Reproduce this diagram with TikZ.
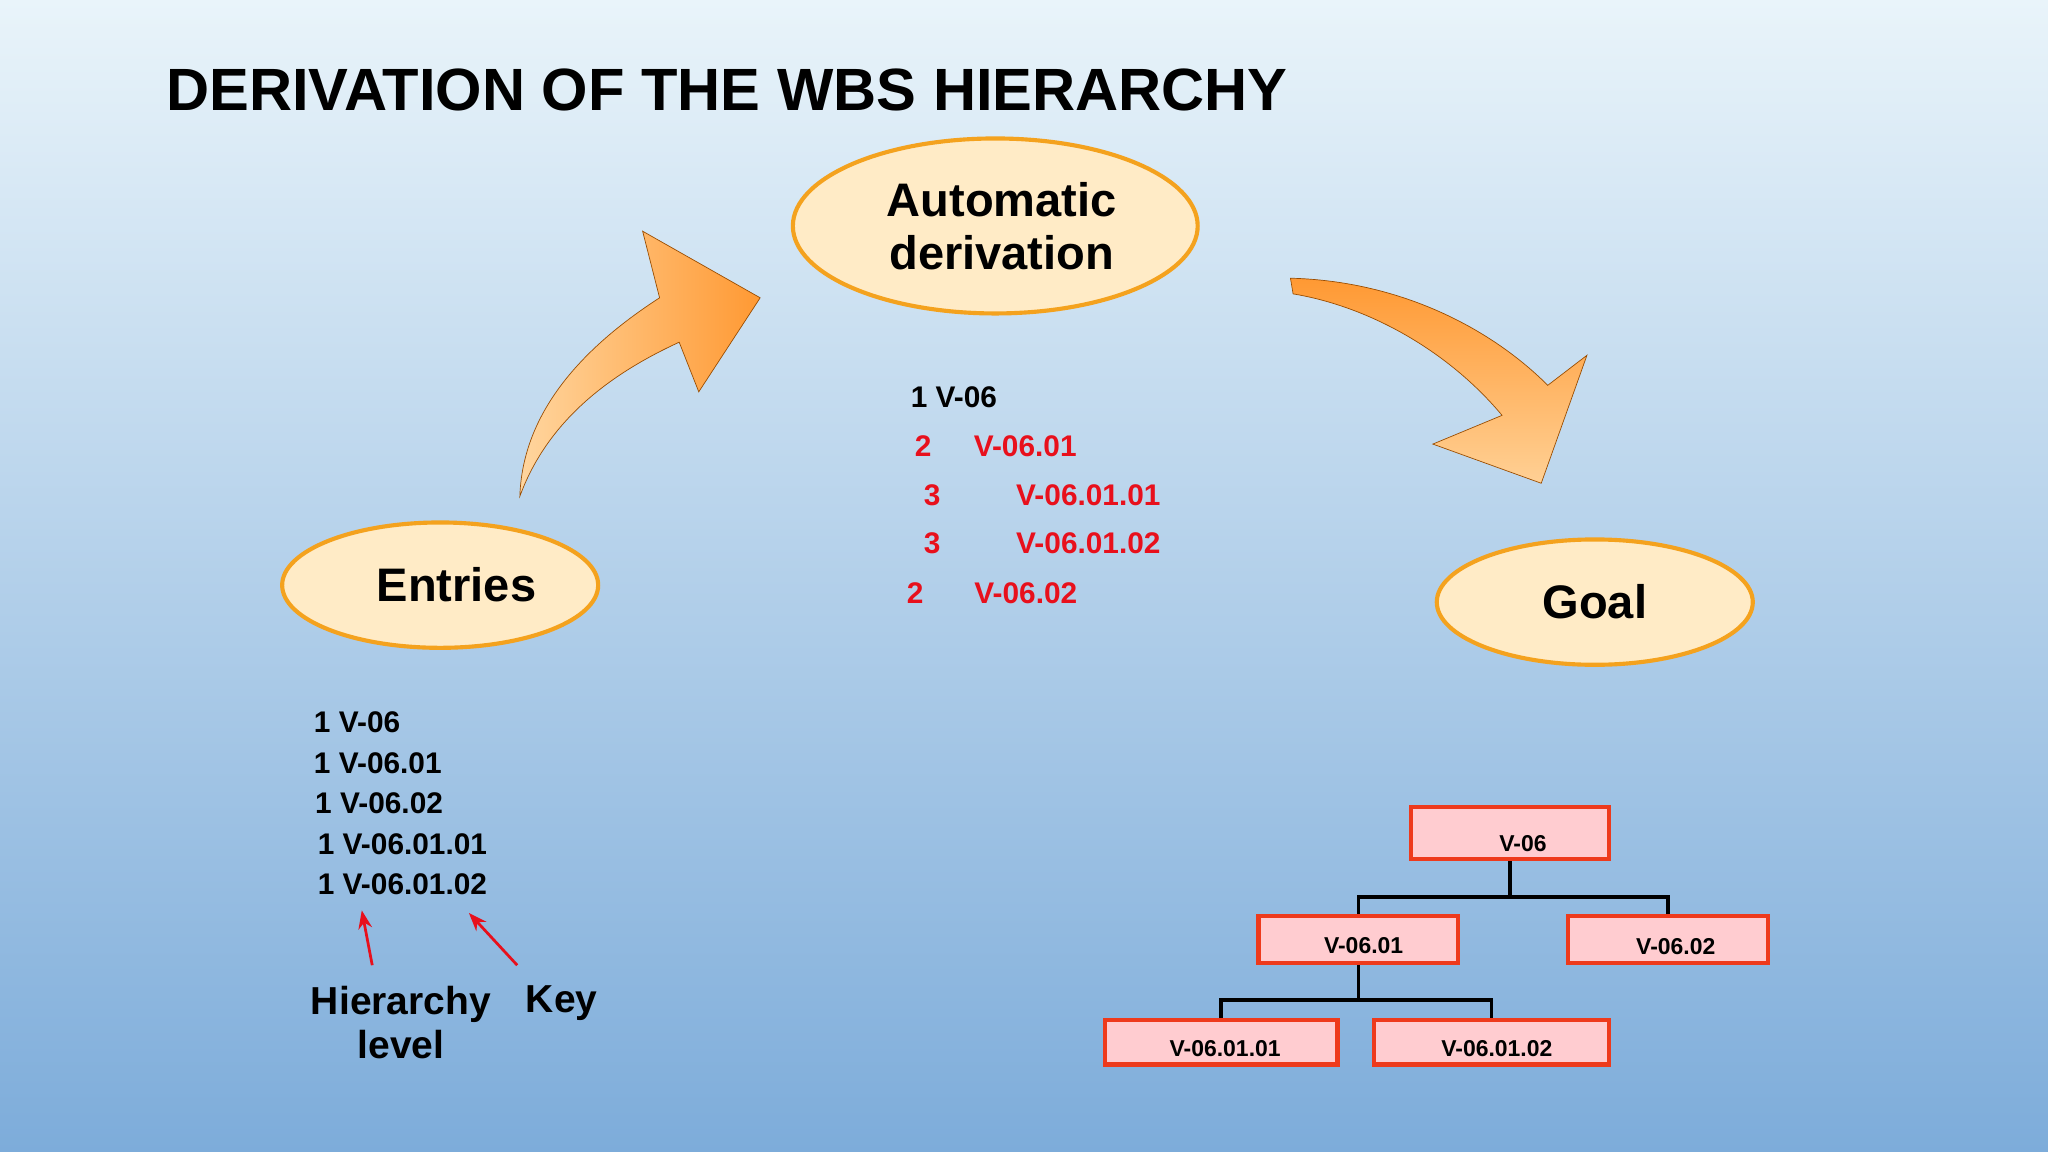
\documentclass[tikz,border=0pt]{standalone}
\usepackage{fontspec}
\setmainfont{Liberation Sans}
\usetikzlibrary{shapes.geometric,arrows.meta}
\definecolor{wbspeach}{HTML}{FFEBC6}
\definecolor{wbsorange}{HTML}{F4A21E}
\definecolor{wbspink}{HTML}{FFCCD0}
\definecolor{wbsred}{HTML}{EE3A1C}
\definecolor{wbstext}{HTML}{E8101C}
\definecolor{skytop}{HTML}{E9F4FA}
\definecolor{skybottom}{HTML}{7DACDA}
\begin{document}
\begin{tikzpicture}[x=0.02cm,y=-0.02cm,
  bubble/.style={ellipse, draw=wbsorange, line width=1.8pt, fill=wbspeach, inner sep=0pt, font=\bfseries\fontsize{20.5}{23}\selectfont, align=center},
  wbsbox/.style={draw=wbsred, line width=1.8pt, fill=wbspink, inner sep=0pt, font=\bfseries\fontsize{10}{12}\selectfont},
  item/.style={anchor=west, inner sep=0pt, font=\bfseries\fontsize{13}{15}\selectfont},
  reditem/.style={item, text=wbstext},
  link/.style={line width=1.6pt},
  pointer/.style={draw=wbstext, line width=1.2pt, -{Stealth[length=8pt,width=6pt]}}]
% background
\shade[top color=skytop, bottom color=skybottom] (0,0) rectangle (1568,882);
\useasboundingbox (0,0) rectangle (1568,882);
\node[anchor=west, inner sep=0pt, font=\bfseries\fontsize{26}{29}\selectfont] (title) at (127,69) {DERIVATION OF THE WBS HIERARCHY};
% ellipses
\node[bubble, minimum width=6.2cm, minimum height=2.68cm] (auto) at (762,173) {\hspace*{0.2cm}Automatic\\\hspace*{0.2cm}derivation};
\node[bubble, minimum width=4.84cm, minimum height=1.92cm] (entries) at (337,448) {\hspace*{0.5cm}Entries};
\node[bubble, minimum width=4.84cm, minimum height=1.92cm] (goal) at (1221,461) {Goal};
% curved arrows
\shade[left color=orange!20!wbspeach, right color=orange!80, draw=orange!60!black, line width=0.3pt]
  (398,380) .. controls (400,320) and (440,270) .. (505,228) -- (492,177) -- (582,228) -- (535,300) -- (520,262) .. controls (470,285) and (420,320) .. (398,380) -- cycle;
\shade[top color=orange!80, bottom color=orange!25!wbspeach, draw=orange!60!black, line width=0.3pt]
  (988,213) .. controls (1070,215) and (1140,250) .. (1185,295) -- (1215,272) -- (1180,370) -- (1097,340) -- (1150,318) .. controls (1110,270) and (1050,235) .. (990,225) -- cycle;
% derived list
\node[item] (d1) at (697,304) {1 V-06};
\node[reditem] (d2) at (700,342) {2\hspace{0.65cm}V-06.01};
\node[reditem] (d3) at (707,379) {3\hspace{1.16cm}V-06.01.01};
\node[reditem] (d4) at (707,416) {3\hspace{1.16cm}V-06.01.02};
\node[reditem] (d5) at (694,454) {2\hspace{0.78cm}V-06.02};
% entries list
\node[item] (e1) at (240,553) {1 V-06};
\node[item] (e2) at (240,584) {1 V-06.01};
\node[item] (e3) at (241,615) {1 V-06.02};
\node[item] (e4) at (243,646) {1 V-06.01.01};
\node[item] (e5) at (243,677) {1 V-06.01.02};
\node[align=center, inner sep=0pt, font=\bfseries\fontsize{17}{19}\selectfont] (level) at (307,783) {Hierarchy\\level};
\node[inner sep=0pt, font=\bfseries\fontsize{17}{19}\selectfont] (key) at (430,768) {Key};
\coordinate (lvltip) at (277,697);
\coordinate (keytip) at (359,699);
\draw[pointer] (285,739) -- (lvltip);
\draw[pointer] (396,739) -- (keytip);
% goal tree
\node[wbsbox, minimum width=3.04cm, minimum height=0.8cm] (v06) at (1156,638) {};
\node[font=\bfseries\fontsize{10}{12}\selectfont] at (1166,646) {V-06};
\node[wbsbox, minimum width=3.06cm, minimum height=0.72cm] (v0601) at (1040,719) {};
\node[font=\bfseries\fontsize{10}{12}\selectfont] at (1044,724) {V-06.01};
\node[wbsbox, minimum width=3.06cm, minimum height=0.72cm] (v0602) at (1277,719) {};
\node[font=\bfseries\fontsize{10}{12}\selectfont] at (1283,725) {V-06.02};
\node[wbsbox, minimum width=3.56cm, minimum height=0.68cm] (v060101) at (935,798) {};
\node[font=\bfseries\fontsize{10}{12}\selectfont] at (938,803) {V-06.01.01};
\node[wbsbox, minimum width=3.6cm, minimum height=0.68cm] (v060102) at (1142,798) {};
\node[font=\bfseries\fontsize{10}{12}\selectfont] at (1146,803) {V-06.01.02};
\draw[link] (v06.south) -- ++(0,27) coordinate (j1);
\draw[link] (v0601.north) |- (j1) -| (v0602.north);
\draw[link] (v0601.south) -- ++(0,27) coordinate (j2);
\draw[link] (v060101.north) |- (j2) -| (v060102.north);
\end{tikzpicture}
\end{document}
